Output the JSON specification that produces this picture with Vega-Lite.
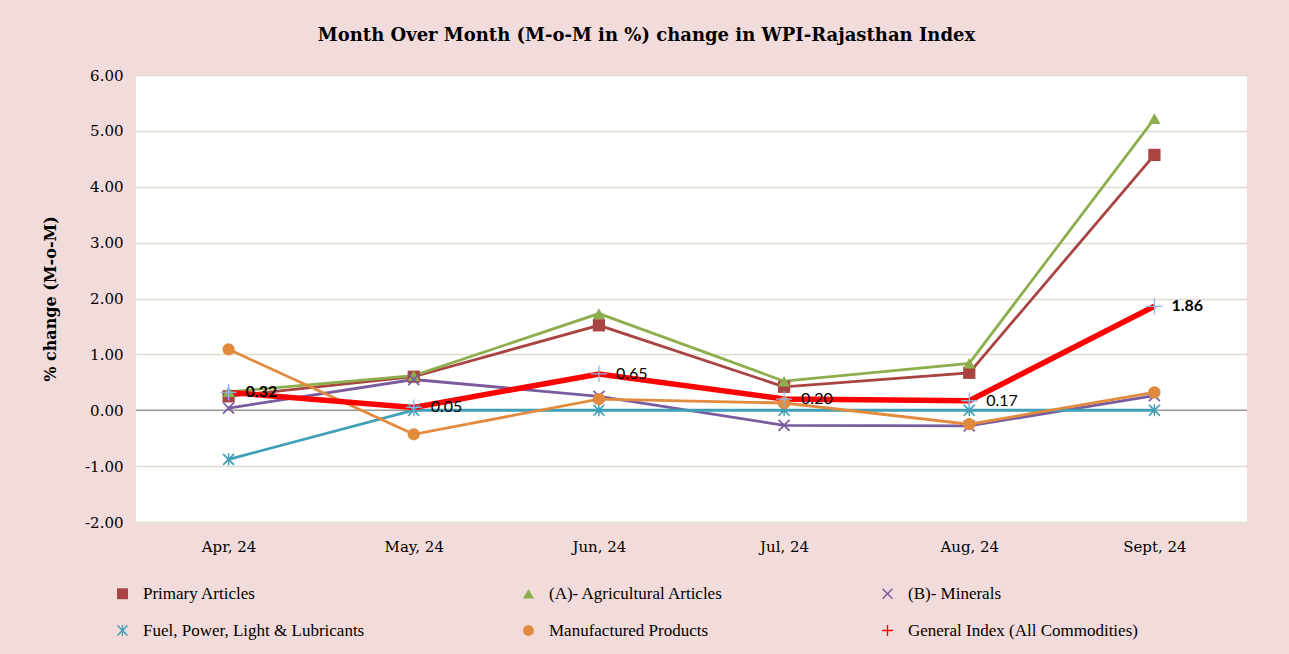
{
  "$schema": "https://vega.github.io/schema/vega-lite/v6.json",
  "width": 1111,
  "height": 447,
  "autosize": {"type": "none"},
  "padding": {"left": 136, "top": 75, "right": 42, "bottom": 132},
  "background": "#F2DCDB",
  "title": {
    "text": "Month Over Month (M-o-M in %) change in WPI-Rajasthan Index",
    "font": "DejaVu Serif",
    "fontSize": 18,
    "fontWeight": "bold",
    "color": "#000000",
    "anchor": "middle",
    "frame": "group",
    "dx": -45,
    "offset": 23
  },
  "config": {
    "view": {"fill": "#FFFFFF", "stroke": null},
    "axis": {"labelFont": "DejaVu Serif", "labelColor": "#000000", "titleFont": "DejaVu Serif", "titleColor": "#000000"}
  },
  "data": {
    "values": [
      {"month": "Apr, 24", "series": "Primary Articles", "value": 0.25},
      {"month": "May, 24", "series": "Primary Articles", "value": 0.6},
      {"month": "Jun, 24", "series": "Primary Articles", "value": 1.52},
      {"month": "Jul, 24", "series": "Primary Articles", "value": 0.42},
      {"month": "Aug, 24", "series": "Primary Articles", "value": 0.67},
      {"month": "Sept, 24", "series": "Primary Articles", "value": 4.57},
      {"month": "Apr, 24", "series": " (A)- Agricultural Articles", "value": 0.33},
      {"month": "May, 24", "series": " (A)- Agricultural Articles", "value": 0.62},
      {"month": "Jun, 24", "series": " (A)- Agricultural Articles", "value": 1.73},
      {"month": "Jul, 24", "series": " (A)- Agricultural Articles", "value": 0.52},
      {"month": "Aug, 24", "series": " (A)- Agricultural Articles", "value": 0.84},
      {"month": "Sept, 24", "series": " (A)- Agricultural Articles", "value": 5.22},
      {"month": "Apr, 24", "series": " (B)- Minerals", "value": 0.04},
      {"month": "May, 24", "series": " (B)- Minerals", "value": 0.55},
      {"month": "Jun, 24", "series": " (B)- Minerals", "value": 0.25},
      {"month": "Jul, 24", "series": " (B)- Minerals", "value": -0.27},
      {"month": "Aug, 24", "series": " (B)- Minerals", "value": -0.28},
      {"month": "Sept, 24", "series": " (B)- Minerals", "value": 0.26},
      {"month": "Apr, 24", "series": "Fuel, Power, Light & Lubricants", "value": -0.88},
      {"month": "May, 24", "series": "Fuel, Power, Light & Lubricants", "value": 0.0},
      {"month": "Jun, 24", "series": "Fuel, Power, Light & Lubricants", "value": 0.0},
      {"month": "Jul, 24", "series": "Fuel, Power, Light & Lubricants", "value": 0.0},
      {"month": "Aug, 24", "series": "Fuel, Power, Light & Lubricants", "value": 0.0},
      {"month": "Sept, 24", "series": "Fuel, Power, Light & Lubricants", "value": 0.0},
      {"month": "Apr, 24", "series": "Manufactured Products", "value": 1.09},
      {"month": "May, 24", "series": "Manufactured Products", "value": -0.43},
      {"month": "Jun, 24", "series": "Manufactured Products", "value": 0.2},
      {"month": "Jul, 24", "series": "Manufactured Products", "value": 0.13},
      {"month": "Aug, 24", "series": "Manufactured Products", "value": -0.25},
      {"month": "Sept, 24", "series": "Manufactured Products", "value": 0.32},
      {"month": "Apr, 24", "series": "General Index (All Commodities)", "value": 0.32},
      {"month": "May, 24", "series": "General Index (All Commodities)", "value": 0.05},
      {"month": "Jun, 24", "series": "General Index (All Commodities)", "value": 0.65},
      {"month": "Jul, 24", "series": "General Index (All Commodities)", "value": 0.2},
      {"month": "Aug, 24", "series": "General Index (All Commodities)", "value": 0.17},
      {"month": "Sept, 24", "series": "General Index (All Commodities)", "value": 1.86}
    ]
  },
  "encoding": {
    "x": {
      "field": "month",
      "type": "ordinal",
      "sort": ["Apr, 24", "May, 24", "Jun, 24", "Jul, 24", "Aug, 24", "Sept, 24"],
      "scale": {"type": "point", "padding": 0.5},
      "axis": {"title": null, "labelAngle": 0, "labelFontSize": 15, "ticks": false, "domain": false, "labelPadding": 17, "grid": false}
    },
    "y": {
      "field": "value",
      "type": "quantitative",
      "scale": {"domain": [-2, 6], "nice": false, "zero": false},
      "axis": {
        "title": "% change (M-o-M)",
        "titleFontSize": 16,
        "titleFontWeight": "bold",
        "titlePadding": 26,
        "values": [-2, -1, 0, 1, 2, 3, 4, 5, 6],
        "labelExpr": "replace(format(datum.value, '.2f'), '\u2212', '-')",
        "labelFontSize": 15,
        "labelPadding": 13,
        "ticks": false,
        "domain": false,
        "gridColor": "#DEDBD0",
        "gridWidth": 1.5
      }
    }
  },
  "layer": [
    {
      "mark": {"type": "rule", "color": "#9A9A9A", "strokeWidth": 1.5},
      "data": {"values": [{"zero": 0}]},
      "encoding": {"y": {"field": "zero", "type": "quantitative"}, "x": null}
    },
    {
      "mark": {"type": "line"},
      "encoding": {
        "color": {
          "field": "series",
          "type": "nominal",
          "scale": {
            "domain": ["Primary Articles", " (A)- Agricultural Articles", " (B)- Minerals", "Fuel, Power, Light & Lubricants", "Manufactured Products", "General Index (All Commodities)"],
            "range": ["#A94442", "#8DAE4C", "#7A5C9E", "#3FA0B8", "#E28B3E", "#FF0000"]
          },
          "legend": {
            "title": null,
            "orient": "none",
            "legendX": -22,
            "legendY": 510,
            "columns": 3,
            "direction": "horizontal",
            "gridAlign": "each",
            "columnPadding": 155,
            "rowPadding": 19,
            "labelFont": "Liberation Serif",
            "labelFontSize": 17,
            "labelLimit": 500,
            "labelColor": "#000000",
            "symbolSize": 120,
            "labelOffset": 12,
            "symbolStrokeWidth": 0
          }
        },
        "shape": {
          "field": "series",
          "type": "nominal",
          "scale": {
            "domain": ["Primary Articles", " (A)- Agricultural Articles", " (B)- Minerals", "Fuel, Power, Light & Lubricants", "Manufactured Products", "General Index (All Commodities)"],
            "range": ["square", "triangle-up", "M-1,-0.8L-0.8,-1L0,-0.2L0.8,-1L1,-0.8L0.2,0L1,0.8L0.8,1L0,0.2L-0.8,1L-1,0.8L-0.2,0Z", "M-1,-0.8L-0.8,-1L0,-0.2L0.8,-1L1,-0.8L0.2,0L1,0.8L0.8,1L0,0.2L-0.8,1L-1,0.8L-0.2,0Z M-0.12,-1H0.12V1H-0.12Z", "circle", "M-1,-0.12H1V0.12H-1Z M-0.12,-1H0.12V1H-0.12Z"]
          },
          "legend": null
        },
        "detail": {"field": "series"},
        "strokeWidth": {
          "condition": {"test": "datum.series === 'General Index (All Commodities)'", "value": 5.5},
          "value": 2.8
        }
      }
    },
    {
      "mark": {"type": "point", "filled": true, "opacity": 1},
      "transform": [{"filter": "datum.series !== 'General Index (All Commodities)'"}],
      "encoding": {
        "color": {"field": "series", "type": "nominal"},
        "shape": {"field": "series", "type": "nominal"},
        "size": {"value": 150}
      }
    },
    {
      "mark": {"type": "point", "filled": true, "opacity": 1, "color": "#8DB3E2", "shape": "M-1,-0.08H1V0.08H-1Z M-0.08,-1H0.08V1H-0.08Z", "size": 260},
      "transform": [{"filter": "datum.series === 'General Index (All Commodities)'"}],
      "encoding": {}
    },
    {
      "mark": {"type": "text", "align": "left", "baseline": "middle", "dx": 17, "font": "Lato", "fontSize": 16, "fontWeight": "normal", "color": "#000000"},
      "transform": [{"filter": "datum.series === 'General Index (All Commodities)' && datum.month !== 'Apr, 24' && datum.month !== 'Sept, 24'"}],
      "encoding": {
        "text": {"field": "value", "type": "quantitative", "format": ".2f"}
      }
    },
    {
      "mark": {"type": "text", "align": "left", "baseline": "middle", "dx": 17, "font": "Lato", "fontSize": 16, "fontWeight": "bold", "color": "#000000"},
      "transform": [{"filter": "datum.series === 'General Index (All Commodities)' && (datum.month === 'Apr, 24' || datum.month === 'Sept, 24')"}],
      "encoding": {
        "text": {"field": "value", "type": "quantitative", "format": ".2f"}
      }
    }
  ]
}
